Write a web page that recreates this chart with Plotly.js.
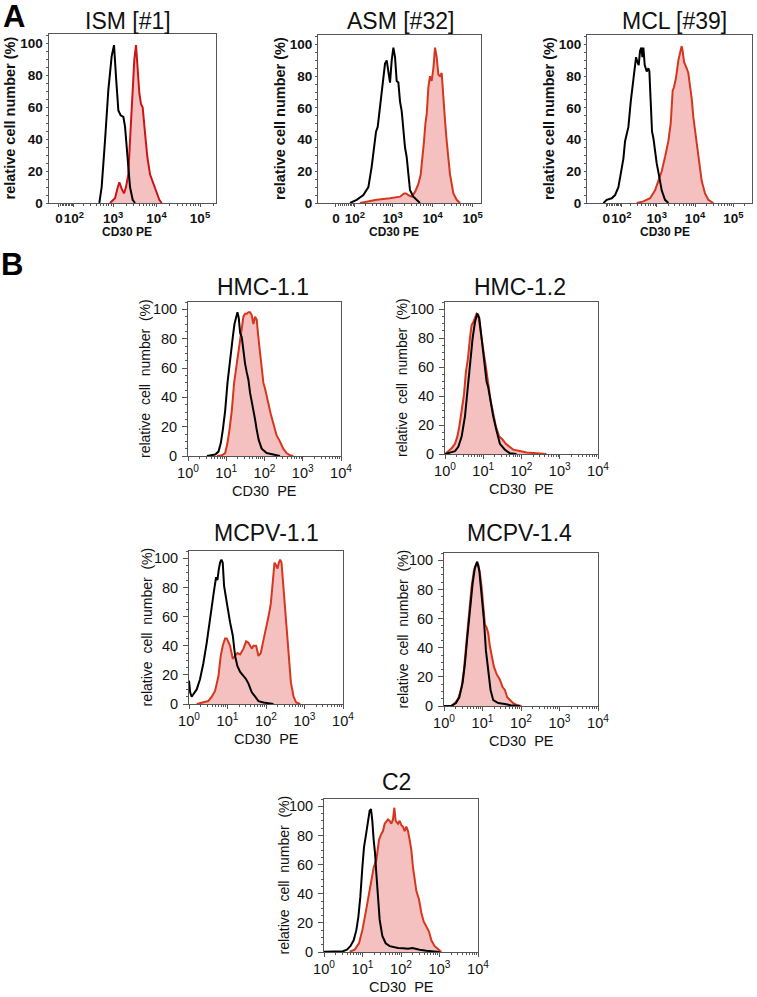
<!DOCTYPE html>
<html><head><meta charset="utf-8">
<script src="https://cdn.plot.ly/plotly-3.0.1.min.js"></script>
<style>html,body{margin:0;padding:0;background:#fff}#chart{width:757px;height:997px}</style>
</head><body><div id="chart"></div>
<script>
// ---------- DATA (x: CD30 PE on decade scale, y: relative cell number %) ----------
// Panel A (biexponential display scale, decades)
const ismCtrlX = [2.686,2.739,2.816,2.893,2.969,3.023,3.069,3.123,3.176,3.238,3.276,3.314,3.352,3.391,3.452,3.506];
const ismCtrlY = [0,10,39,71,92,99,79,58,55,54,48,35,23,10,2,0];
const ismCd30X = [2.931,3.046,3.1,3.146,3.199,3.253,3.299,3.352,3.391,3.452,3.49,3.529,3.567,3.605,3.644,3.682,3.736,3.789,3.851,3.927,3.989,4.065,4.119];
const ismCd30Y = [0,3,9,13,9,6,10,18,39,71,90,99,85,69,62,60,44,29,18,12,7,2,0];

const asmCtrlX = [1.933,2.1,2.267,2.392,2.475,2.533,2.583,2.625,2.667,2.708,2.75,2.808,2.85,2.892,2.933,2.975,3.017,3.058,3.1,3.142,3.183,3.225,3.267,3.308,3.35,3.392,3.433,3.517,3.6,3.683];
const asmCtrlY = [0,2,5,10,23,37,45,48,58,66,77,88,90,84,76,90,98,92,77,76,64,58,44,35,29,18,8,4,2,0];
const asmCd30X = [2.183,2.6,2.933,3.183,3.283,3.333,3.392,3.475,3.558,3.642,3.7,3.75,3.783,3.817,3.85,3.892,3.933,3.975,4.017,4.058,4.1,4.142,4.183,4.225,4.267,4.308,4.35,4.433,4.517,4.6,4.683];
const asmCd30Y = [0,2,3,4,6,6,5,4,7,12,18,29,39,50,56,73,80,77,85,98,92,81,80,82,64,52,39,18,6,2,0];

const mclCtrlX = [1.609,1.696,1.826,1.913,2.0,2.061,2.13,2.174,2.217,2.261,2.322,2.374,2.417,2.461,2.496,2.53,2.565,2.6,2.626,2.652,2.687,2.739,2.783,2.809,2.843,2.878,2.913,2.957,3.0,3.07,3.13,3.217,3.304];
const mclCtrlY = [0,2,3,5,10,18,28,39,44,48,64,75,85,92,89,87,96,98,92,98,87,83,85,83,64,45,41,33,25,16,8,2,0];
const mclCd30X = [2.478,2.652,2.826,2.957,3.043,3.13,3.217,3.304,3.365,3.417,3.452,3.504,3.565,3.609,3.652,3.678,3.713,3.783,3.826,3.852,3.913,3.957,4.043,4.113,4.174,4.261,4.348,4.478];
const mclCd30Y = [0,1,3,8,14,20,29,39,50,71,73,79,90,94,99,96,89,85,82,77,66,54,39,27,14,6,2,0];

// Panel B (log10 of CD30 PE intensity)
const hmc11CtrlX = [0.495,0.581,0.711,0.798,0.859,0.911,0.972,1.033,1.085,1.119,1.171,1.215,1.258,1.293,1.328,1.362,1.406,1.449,1.492,1.536,1.579,1.623,1.666,1.709,1.753,1.796,1.848,1.926,2.056,2.23,2.403];
const hmc11CtrlY = [0,0.5,1,3,9,18,31,50,63,70,81,90,95,98,94,84,81,70,63,57,52,43,36,31,25,18,11,5,2,1,0];
const hmc11Cd30X = [0.755,0.885,0.972,1.033,1.085,1.145,1.206,1.276,1.328,1.362,1.406,1.449,1.492,1.536,1.579,1.623,1.666,1.709,1.753,1.796,1.839,1.883,1.926,1.97,2.013,2.056,2.1,2.16,2.23,2.317,2.403,2.49,2.577,2.664,2.751];
const hmc11Cd30Y = [0,0.5,2,9,18,31,50,63,75,79,90,95,97,97,98,98,96,90,95,93,81,70,59,50,46,40,36,29,22,14,10,5,2,0.5,0];

const hmc12CtrlX = [0,0.13,0.261,0.348,0.435,0.522,0.583,0.652,0.722,0.783,0.843,0.896,0.957,1.017,1.087,1.13,1.191,1.261,1.348,1.435,1.565,1.696,1.87];
const hmc12CtrlY = [0,1,2,5,12,26,42,62,80,91,97,94,80,64,50,46,35,26,16,7,3,0.5,0];
const hmc12Cd30X = [0,0.087,0.174,0.261,0.322,0.374,0.435,0.496,0.548,0.6,0.652,0.696,0.739,0.783,0.826,0.87,0.913,0.957,1.017,1.07,1.13,1.191,1.261,1.33,1.417,1.504,1.591,1.678,1.783,1.957,2.13,2.304,2.478,2.652];
const hmc12Cd30Y = [0,2,4,7,12,19,30,41,57,66,80,89,91,94,97,96,87,80,69,60,48,37,28,19,12,10,7,5,3,2,1,0.7,0.2,0];

const mcpv11CtrlX = [0,0.03,0.069,0.13,0.2,0.286,0.373,0.46,0.529,0.59,0.651,0.703,0.738,0.772,0.807,0.842,0.876,0.911,0.963,0.998,1.067,1.137,1.197,1.258,1.328,1.414,1.484,1.544,1.631,1.718,1.805,1.935,2.195];
const mcpv11CtrlY = [16,8,5,7,10,17,28,42,56,67,78,87,85,92,97,99,97,81,74,67,56,47,33,26,22,19,17,14,8,5,2,1,0];
const mcpv11Cd30X = [0.2,0.373,0.503,0.59,0.677,0.764,0.824,0.876,0.937,0.98,1.024,1.067,1.137,1.197,1.258,1.328,1.414,1.484,1.544,1.588,1.631,1.675,1.744,1.805,1.865,1.935,2.004,2.065,2.126,2.178,2.221,2.265,2.299,2.334,2.369,2.403,2.438,2.473,2.525,2.586,2.646,2.716,2.785,2.889];
const mcpv11Cd30Y = [0,1,2,5,9,19,33,40,45,45,42,40,31,33,35,34,38,43,42,40,38,40,40,33,35,44,52,60,69,87,97,95,93,97,99,97,85,69,53,33,15,5,1,0];

const mcpv14CtrlX = [0,0.199,0.311,0.397,0.484,0.544,0.605,0.674,0.743,0.803,0.864,0.916,0.976,1.037,1.089,1.149,1.209,1.279,1.408,1.581,1.728,1.97];
const mcpv14CtrlY = [0,0.2,2,6,16,29,47,66,84,95,99,93,77,59,38,22,11,4,2,1.4,0.5,0];
const mcpv14Cd30X = [0,0.199,0.285,0.371,0.458,0.518,0.587,0.657,0.717,0.778,0.847,0.89,0.933,0.976,1.02,1.063,1.106,1.149,1.192,1.235,1.296,1.365,1.452,1.521,1.581,1.642,1.711,1.797,1.883,2.013];
const mcpv14Cd30Y = [0,0.2,2,5,13,25,45,66,82,93,98,97,91,82,66,56,54,50,41,34,27,22,18,13,11,6,4,2,0.7,0];

const c2CtrlX = [0,0.494,0.597,0.684,0.771,0.84,0.892,0.944,0.996,1.039,1.082,1.117,1.152,1.186,1.221,1.255,1.29,1.325,1.359,1.403,1.446,1.515,1.602,1.706,1.792,1.922,2.052,2.182,2.294,2.355,2.485,2.658,2.831,3.004];
const c2CtrlY = [0.2,0.5,1.6,4,8,15,24,38,58,72,79,86,92,97,98,90,77,68,54,36,22,11,6,4,3.4,2.7,2.5,2.3,2.7,2.3,1.6,0.9,0.2,0];
const c2Cd30X = [0.667,0.797,0.909,0.996,1.082,1.169,1.229,1.29,1.359,1.429,1.489,1.532,1.576,1.619,1.662,1.706,1.749,1.792,1.827,1.861,1.922,1.965,2.009,2.052,2.095,2.139,2.182,2.225,2.268,2.312,2.355,2.398,2.468,2.528,2.589,2.658,2.727,2.788,2.874,2.961,3.048];
const c2Cd30Y = [0.2,1.6,6,15,27,40,49,58,63,77,81,83,88,90,91,90,88,91,99,90,88,90,87,86,83,86,83,77,70,58,49,42,36,27,21,18,14,8,4,2,0];

// Tick labels
const aTickValues = [0, 100, 1000, 10000, 100000];
const aTickText = ['0', '10<sup>2</sup>', '10<sup>3</sup>', '10<sup>4</sup>', '10<sup>5</sup>'];
const bTickValues = [1, 10, 100, 1000, 10000];
const bTickText = ['10<sup>0</sup>', '10<sup>1</sup>', '10<sup>2</sup>', '10<sup>3</sup>', '10<sup>4</sup>'];
const yTickValues = [0, 20, 40, 60, 80, 100];

// ---------- LAYOUT ----------
const W = 757, H = 997;
const FONT = 'Liberation Sans, Arial, sans-serif';
const fx = px => px / W, fy = py => 1 - py / H;
const logicle = (v, c) => Math.asinh(v / (2 * c)) / Math.LN10 + Math.log10(c);

const panelsA = [
  {title: 'ISM [#1]', box: [48.5, 34, 215.7, 203], range: [1.517, 5.361], c: 57, cx: ismCtrlX, cy: ismCtrlY, rx: ismCd30X, ry: ismCd30Y, red: '#cc1414', tpos: [128, 21], ytx: 9, xt: 127},
  {title: 'ASM [#32]', box: [318, 35, 481, 203], range: [1.1325, 5.2075], c: 38, cx: asmCtrlX, cy: asmCtrlY, rx: asmCd30X, ry: asmCd30Y, red: '#d4361e', tpos: [400, 21], ytx: 280, xt: 394},
  {title: 'MCL [#39]', box: [587, 35, 752, 203], range: [1.18, 5.488], c: 48, cx: mclCtrlX, cy: mclCtrlY, rx: mclCd30X, ry: mclCd30Y, red: '#d4361e', tpos: [674, 21], ytx: 549, xt: 665}
];
const panelsB = [
  {title: 'HMC-1.1', box: [188, 302, 341, 456], cx: hmc11CtrlX, cy: hmc11CtrlY, rx: hmc11Cd30X, ry: hmc11Cd30Y, tpos: [263, 287], ytx: 145},
  {title: 'HMC-1.2', box: [445, 302, 598, 454], cx: hmc12CtrlX, cy: hmc12CtrlY, rx: hmc12Cd30X, ry: hmc12Cd30Y, tpos: [520, 287], ytx: 402},
  {title: 'MCPV-1.1', box: [189, 551, 343, 704], cx: mcpv11CtrlX, cy: mcpv11CtrlY, rx: mcpv11Cd30X, ry: mcpv11Cd30Y, tpos: [266, 533], ytx: 146},
  {title: 'MCPV-1.4', box: [444, 553, 598, 706], cx: mcpv14CtrlX, cy: mcpv14CtrlY, rx: mcpv14Cd30X, ry: mcpv14Cd30Y, tpos: [519, 533], ytx: 402},
  {title: 'C2', box: [324, 799, 478, 952], cx: c2CtrlX, cy: c2CtrlY, rx: c2Cd30X, ry: c2Cd30Y, tpos: [396, 782], ytx: 283}
];

const traces = [];
const layout = {
  width: W, height: H, margin: {l: 0, r: 0, t: 0, b: 0},
  paper_bgcolor: '#fff', plot_bgcolor: '#fff', showlegend: false,
  font: {family: FONT, color: '#111'},
  annotations: []
};
const FILL = 'rgba(226,70,70,0.34)';
const FRAME = '#555';
let n = 0;

function ann(text, x, y, size, opts) {
  layout.annotations.push(Object.assign({
    text: text, xref: 'paper', yref: 'paper', x: fx(x), y: fy(y),
    xanchor: 'center', yanchor: 'middle', showarrow: false,
    font: {family: FONT, size: size, color: '#111'}
  }, opts || {}));
}

panelsA.forEach(p => {
  n++;
  const xa = 'x' + (n === 1 ? '' : n), ya = 'y' + (n === 1 ? '' : n);
  traces.push({x: p.rx, y: p.ry, xaxis: xa, yaxis: ya, mode: 'lines', line: {color: p.red, width: 2}, fill: 'tozeroy', fillcolor: FILL, hoverinfo: 'skip'});
  traces.push({x: p.cx, y: p.cy, xaxis: xa, yaxis: ya, mode: 'lines', line: {color: '#000', width: 2}, hoverinfo: 'skip'});
  const minors = [];
  [10, 100, 1000, 10000].forEach(d => { for (let k = (d === 10 ? 1 : 2); k <= 9; k++) minors.push(logicle(k * d, p.c)); });
  minors.push(logicle(200000, p.c));
  layout['xaxis' + (n === 1 ? '' : n)] = {
    domain: [fx(p.box[0]), fx(p.box[2])], anchor: ya, range: p.range, type: 'linear',
    tickmode: 'array', tickvals: aTickValues.map(v => logicle(v, p.c)), ticktext: aTickText, tickangle: 0,
    ticks: 'outside', ticklen: 3, tickcolor: FRAME, tickwidth: 1,
    tickfont: {family: FONT, size: 13.5, color: '#111', weight: 'bold'},
    showline: true, mirror: true, linecolor: FRAME, linewidth: 1, showgrid: false, zeroline: false,
    minor: {tickmode: 'array', tickvals: minors, ticks: 'outside', ticklen: 2, tickcolor: FRAME, showgrid: false}
  };
  layout['yaxis' + (n === 1 ? '' : n)] = {
    domain: [fy(p.box[3]), fy(p.box[1])], anchor: xa, range: [0, 106],
    tickmode: 'array', tickvals: yTickValues, tickangle: 0,
    ticks: 'outside', ticklen: 2, tickcolor: FRAME, ticklabelstandoff: 0,
    tickfont: {family: FONT, size: 13.5, color: '#111', weight: 'bold'},
    showline: true, mirror: true, linecolor: FRAME, linewidth: 1, showgrid: false, zeroline: false,
    minor: {dtick: 5, ticks: 'outside', ticklen: 2, tickcolor: FRAME, showgrid: false}
  };
  ann(p.title, p.tpos[0], p.tpos[1], 23);
  ann('relative cell number (%)', p.ytx, (p.box[1] + p.box[3]) / 2, 14.5, {textangle: -90, font: {family: FONT, size: 14.5, color: '#111', weight: 'bold'}});
  ann('CD30 PE', p.xt, 232, 12, {font: {family: FONT, size: 12, color: '#111', weight: 'bold'}});
});

panelsB.forEach(p => {
  n++;
  const xa = 'x' + n, ya = 'y' + n;
  traces.push({x: p.rx.map(v => Math.pow(10, v)), y: p.ry, xaxis: xa, yaxis: ya, mode: 'lines', line: {color: '#d6361c', width: 2}, fill: 'tozeroy', fillcolor: FILL, hoverinfo: 'skip'});
  traces.push({x: p.cx.map(v => Math.pow(10, v)), y: p.cy, xaxis: xa, yaxis: ya, mode: 'lines', line: {color: '#000', width: 2}, hoverinfo: 'skip'});
  const minors = [];
  [1, 10, 100, 1000].forEach(d => { for (let k = 2; k <= 9; k++) minors.push(k * d); });
  layout['xaxis' + n] = {
    domain: [fx(p.box[0]), fx(p.box[2])], anchor: ya, type: 'log', range: [0, 4],
    tickmode: 'array', tickvals: bTickValues, ticktext: bTickText, tickangle: 0,
    ticks: 'outside', ticklen: 4, tickcolor: FRAME, tickwidth: 1,
    tickfont: {family: FONT, size: 14.5, color: '#111'},
    showline: true, mirror: true, linecolor: FRAME, linewidth: 1, showgrid: false, zeroline: false,
    minor: {tickmode: 'array', tickvals: minors, ticks: 'outside', ticklen: 2, tickcolor: FRAME, showgrid: false}
  };
  layout['yaxis' + n] = {
    domain: [fy(p.box[3]), fy(p.box[1])], anchor: xa, range: [0, 105],
    tickmode: 'array', tickvals: yTickValues, tickangle: 0,
    ticks: 'outside', ticklen: 5, tickcolor: FRAME, ticklabelstandoff: 2,
    tickfont: {family: FONT, size: 14.5, color: '#111'},
    showline: true, mirror: true, linecolor: FRAME, linewidth: 1, showgrid: false, zeroline: false,
    minor: {dtick: 5, ticks: 'outside', ticklen: 2, tickcolor: FRAME, showgrid: false}
  };
  ann(p.title, p.tpos[0], p.tpos[1], 23);
  ann('relative\u00A0 cell\u00A0 number\u00A0 (%)', p.ytx, (p.box[1] + p.box[3]) / 2, 14, {textangle: -90});
  ann('CD30\u00A0 PE', (p.box[0] + p.box[2]) / 2, p.box[3] + 35, 14.5);
});

ann('A', 14, 17, 31, {font: {family: FONT, size: 31, color: '#000', weight: 'bold'}});
ann('B', 12, 265, 31, {font: {family: FONT, size: 31, color: '#000', weight: 'bold'}});

Plotly.newPlot('chart', traces, layout, {staticPlot: true, displayModeBar: false});
</script>
</body></html>
